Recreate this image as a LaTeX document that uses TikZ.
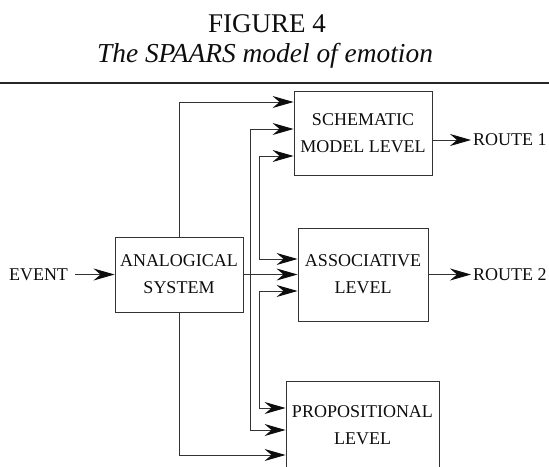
\documentclass[tikz,border=0pt]{standalone}
\usepackage{fontspec}
\setmainfont{Liberation Serif}
\usetikzlibrary{arrows.meta}
\begin{document}
\begin{tikzpicture}[x=1pt,y=-1pt,
  box/.style={draw=black!80,line width=0.9pt,inner sep=0pt,align=center,
    font=\fontsize{18}{27}\selectfont,text=black!95},
  lbl/.style={inner sep=0pt,font=\fontsize{18}{27}\selectfont,text=black!95},
  conn/.style={draw=black!80,line width=0.9pt},
  tip/.tip={Stealth[length=21pt,width=12pt,inset=7pt,color=black!95]},
  arr/.style={conn,-tip},
  arrb/.style={conn,tip-tip}]
\useasboundingbox (0,0) rectangle (549,466);
\clip (0,0) rectangle (549,466);
% titles
\node[anchor=base,inner sep=0pt,font=\fontsize{27}{30}\selectfont,text=black!95] (fig) at (267,32) {FIGURE 4};
\node[anchor=base,inner sep=0pt,font=\fontsize{27.4}{30}\selectfont\itshape,text=black!95] (sub) at (265,62) {The SPAARS model of emotion};
\draw[line width=1.3pt,black!85] (0,83) -- (549,83);
% boxes
\node[box,minimum width=128pt,minimum height=75pt] (ana) at (179,274.5) {ANALOGICAL\\SYSTEM};
\node[box,minimum width=138pt,minimum height=84pt] (sch) at (363,133) {SCHEMATIC\\MODEL LEVEL};
\node[box,minimum width=130pt,minimum height=93pt] (asc) at (363,274.5) {ASSOCIATIVE\\LEVEL};
\node[box,minimum width=153pt,minimum height=89pt] (pro) at (362.5,425.5) {PROPOSITIONAL\\LEVEL};
% labels
\node[lbl] (event) at (38.5,274.5) {EVENT};
\node[lbl,anchor=west] (r1) at (473,140) {ROUTE 1};
\node[lbl,anchor=west] (r2) at (473,274.5) {ROUTE 2};
\coordinate (s1) at ([yshift=-7pt]sch.east);
% connectors
\draw[arr,shorten <=7pt] (event) -- (ana);
\draw[arr] (ana.north) |- ([yshift=31pt]sch.west);
\draw[arrb] ([yshift=4pt]sch.west) -- ++(-43,0) |- ([yshift=-4.5pt]pro.west);
\draw[arrb] ([yshift=-23pt]sch.west) -- ++(-34,0) |- ([yshift=15.5pt]asc.west);
\draw[arrb] ([yshift=-16.5pt]asc.west) -- ++(-38,0) |- ([yshift=17.5pt]pro.west);
\draw[arr] (ana.east) -- (asc.west);
\draw[arr] (ana.south) |- ([yshift=-29.5pt]pro.west);
\draw[arr,shorten >=2pt] (s1) -- (r1.west);
\draw[arr,shorten >=2pt] (asc.east) -- (r2.west);
\end{tikzpicture}
\end{document}
